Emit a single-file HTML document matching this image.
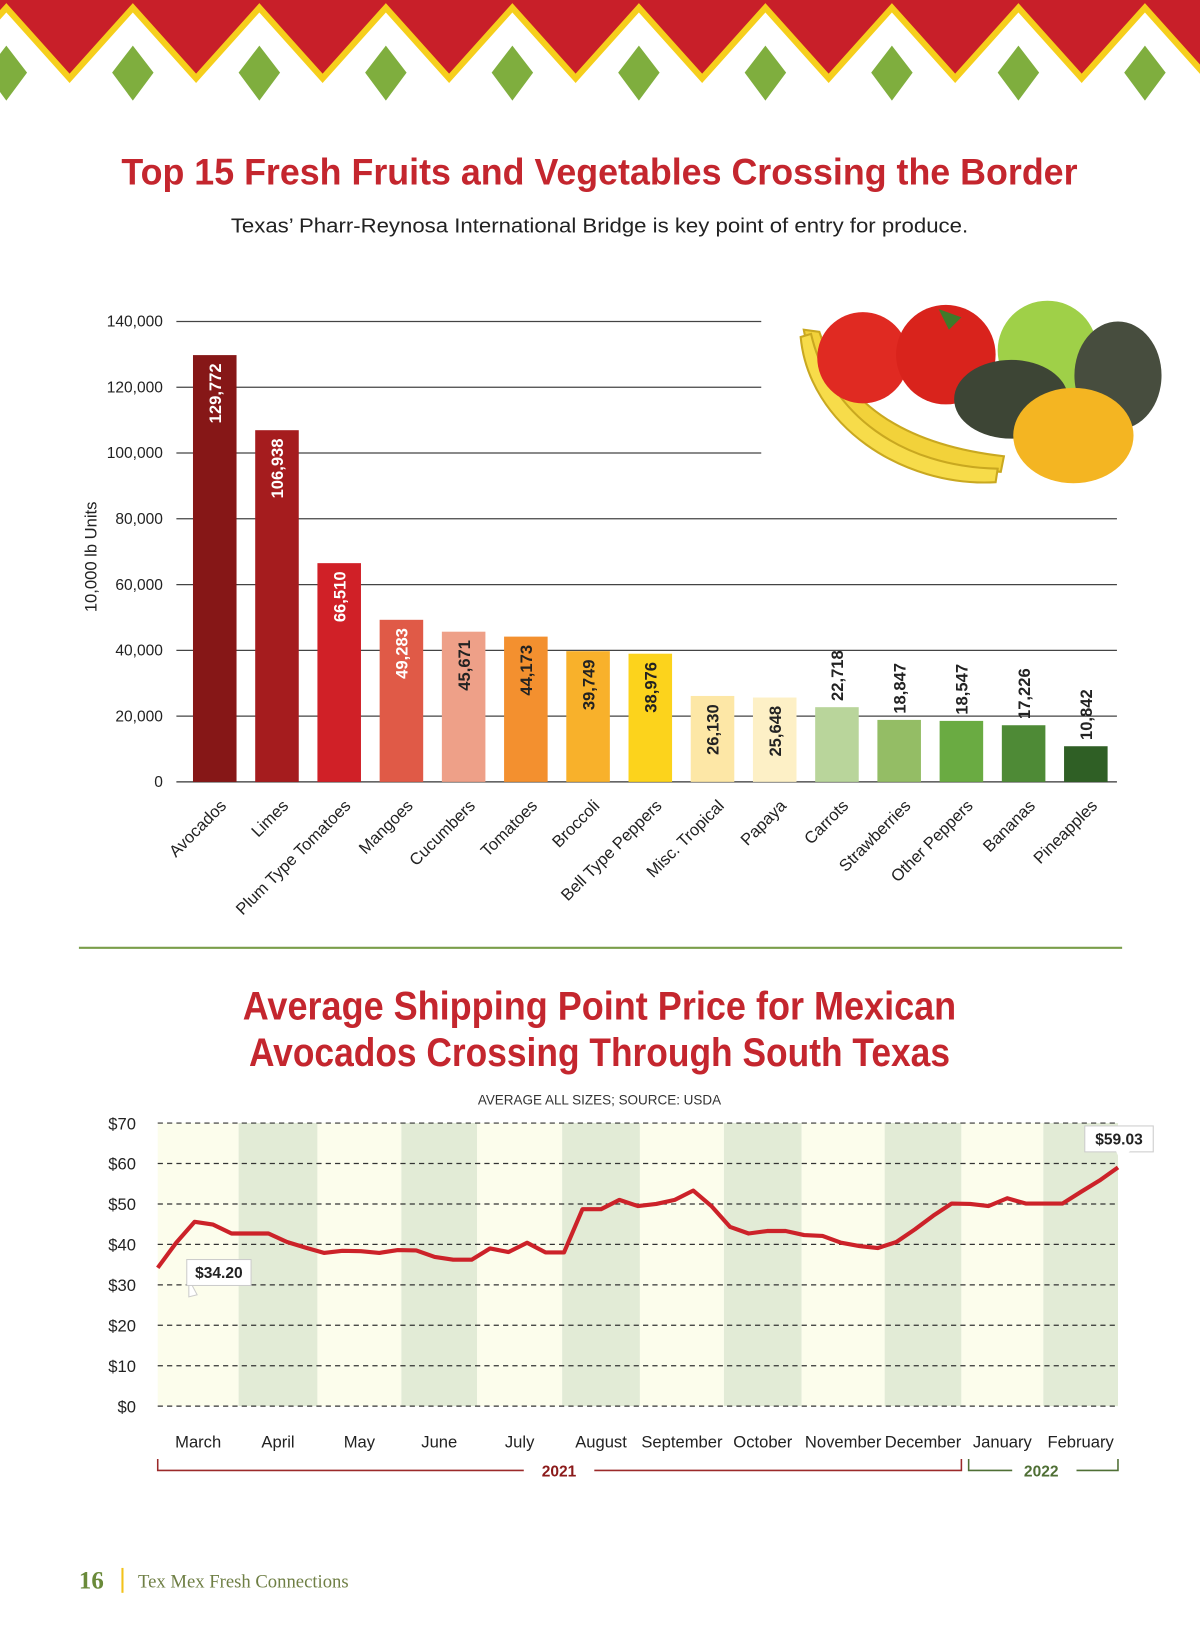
<!DOCTYPE html>
<html><head><meta charset="utf-8"><style>
html,body{margin:0;padding:0;background:#fff;}
svg{display:block;font-family:"Liberation Sans",sans-serif;}
</style></head><body>
<svg id="page" xmlns="http://www.w3.org/2000/svg" width="1200" height="1626" viewBox="0 0 1157 1568">
<rect x="0" y="0" width="1157" height="1568" fill="#fff"/>
<g id="banner"></g>

<text x="578" y="178" text-anchor="middle" font-size="36" font-weight="bold" fill="#c4262e" textLength="922" lengthAdjust="spacingAndGlyphs">Top 15 Fresh Fruits and Vegetables Crossing the Border</text>
<text x="578" y="224" text-anchor="middle" font-size="20" fill="#222" textLength="711" lengthAdjust="spacingAndGlyphs">Texas’ Pharr-Reynosa International Bridge is key point of entry for produce.</text>

<g>
  <path d="M775,318 C790,400 860,450 965,455 L968,440 C880,430 815,395 790,320 Z" fill="#f2d23a" stroke="#c9a820" stroke-width="2"/>
  <path d="M772,325 C780,410 870,470 960,465 L962,452 C870,450 800,400 782,322 Z" fill="#f7dc4a" stroke="#c9a820" stroke-width="2"/>
  <circle cx="832" cy="345" r="44" fill="#e02a22"/>
  <circle cx="912" cy="342" r="48" fill="#d9231c"/>
  <path d="M905,298 l10,20 l12,-12 z" fill="#3f7a2a"/>
  <circle cx="1010" cy="338" r="48" fill="#9fd048"/>
  <ellipse cx="975" cy="385" rx="55" ry="38" fill="#3d4535"/>
  <ellipse cx="1078" cy="362" rx="42" ry="52" fill="#474d3e"/>
  <ellipse cx="1035" cy="420" rx="58" ry="46" fill="#f4b522"/>
</g>

<g id="barchart"></g>

<line x1="76" y1="914" x2="1082" y2="914" stroke="#7a9e4a" stroke-width="2"/>

<text x="578" y="983" text-anchor="middle" font-size="38" font-weight="bold" fill="#c4262e" textLength="688" lengthAdjust="spacingAndGlyphs">Average Shipping Point Price for Mexican</text>
<text x="578" y="1028" text-anchor="middle" font-size="38" font-weight="bold" fill="#c4262e" textLength="676" lengthAdjust="spacingAndGlyphs">Avocados Crossing Through South Texas</text>
<text x="578" y="1065" text-anchor="middle" font-size="13" fill="#333">AVERAGE ALL SIZES; SOURCE: USDA</text>

<g id="linechart"></g>

<g>
  <text x="76" y="1532" font-family="Liberation Serif, serif" font-size="24" font-weight="bold" fill="#6a8a3a">16</text>
  <line x1="118" y1="1512" x2="118" y2="1536" stroke="#f2c21b" stroke-width="2"/>
  <text x="133" y="1531" font-family="Liberation Serif, serif" font-size="18" fill="#6f7f45">Tex Mex Fresh Connections</text>
</g>
</svg>
<script>
var NS = "http://www.w3.org/2000/svg";
// ---- Bar chart data ----
var barCategories = ["Avocados","Limes","Plum Type Tomatoes","Mangoes","Cucumbers","Tomatoes","Broccoli","Bell Type Peppers","Misc. Tropical","Papaya","Carrots","Strawberries","Other Peppers","Bananas","Pineapples"];
var barValues = [129772,106938,66510,49283,45671,44173,39749,38976,26130,25648,22718,18847,18547,17226,10842];
var barLabels = ["129,772","106,938","66,510","49,283","45,671","44,173","39,749","38,976","26,130","25,648","22,718","18,847","18,547","17,226","10,842"];
var barTicks = [0,20000,40000,60000,80000,100000,120000,140000];
var barTickLabels = ["0","20,000","40,000","60,000","80,000","100,000","120,000","140,000"];
// ---- Line chart data ----
var priceValues = [34.2,40.4,45.6,44.9,42.7,42.7,42.7,40.6,39.2,37.9,38.4,38.3,37.9,38.6,38.5,36.9,36.2,36.2,39.0,38.1,40.4,38.0,38.0,48.7,48.7,51.0,49.5,50.0,51.0,53.3,49.4,44.3,42.7,43.3,43.3,42.3,42.1,40.4,39.6,39.1,40.6,43.7,47.1,50.1,50.0,49.5,51.4,50.1,50.1,50.1,53.0,55.8,59.03];
var priceTicks = [0,10,20,30,40,50,60,70];
var priceTickLabels = ["$0","$10","$20","$30","$40","$50","$60","$70"];
var months = ["March","April","May","June","July","August","September","October","November","December","January","February"];

function mk(tag, attrs, parent, txt){
  var e = document.createElementNS(NS, tag);
  for (var k in attrs) e.setAttribute(k, attrs[k]);
  if (txt !== undefined) e.textContent = txt;
  parent.appendChild(e);
  return e;
}

// ---- Banner ----
(function(){
  var g = document.getElementById("banner");
  function edge(dy){
    var p = "-70," + (80+dy) + " ";
    for (var k = -1; k < 11; k++){
      var xc = 6 + 122*k;
      p += xc + "," + (12+dy) + " " + (xc+61) + "," + (80+dy) + " ";
    }
    return p;
  }
  var y = mk("polygon", {points: "-70,-10 1250,-10 " + edge(0).split(" ").reverse().join(" "), fill:"#f6cf1c"}, g);
  
  
  var r = mk("polygon", {points: "-70,-10 1250,-10 " + edge(-9).split(" ").reverse().join(" "), fill:"#c81f29"}, g);
  
  
  for (var k = 0; k < 10; k++){
    var xc = 6 + 122*k;
    var d = mk("polygon", {points: xc+",44 "+(xc+20)+",70 "+xc+",97 "+(xc-20)+",70", fill:"#7fae3e"}, g);
    
    
  }
})();

// ---- Bar chart ----
(function(){
  var g = document.getElementById("barchart");
  var y0 = 754, yTop = 310, vMax = 140000;
  function yScale(v){ return y0 - (v / vMax) * (y0 - yTop); }
  function xBand(i){ return 186 + i * 60; }
  var bw = 42;
  var colors = ["#861717","#a51c1e","#d02027","#e05a47","#eea088","#f3902f","#f8b12b","#fcd31c","#fde7a6","#fdf0c6","#b9d59b","#94bd65","#6aab42","#4e8a36","#2f5f25"];
  var labelColors = ["#fff","#fff","#fff","#fff","#222","#222","#222","#222","#222","#222","#222","#222","#222","#222","#222"];
  for (var t = 0; t < barTicks.length; t++){
    var yy = yScale(barTicks[t]);
    var x2 = barTicks[t] >= 100000 ? 734 : 1077;
    var gl = mk("line", {x1:170, x2:x2, y1:yy, y2:yy, stroke: barTicks[t]===0 ? "#333" : "#444", "stroke-width":1.2}, g);
    
    
    var tl = mk("text", {x:157, y:yy+5, "text-anchor":"end", "font-size":15, fill:"#222"}, g, barTickLabels[t]);
    
    
  }
  var at = mk("text", {x:0, y:0, transform:"translate(93,537) rotate(-90)", "text-anchor":"middle", "font-size":16, fill:"#222"}, g, "10,000 lb Units");
  
  
  for (var i = 0; i < barValues.length; i++){
    var x = xBand(i), top = yScale(barValues[i]), cx = x + bw/2;
    var b = mk("rect", {x:x, y:top, width:bw, height:y0-top, fill:colors[i]}, g);
    
    
    var inside = barValues[i] > 24000;
    var lbl;
    if (inside){
      lbl = mk("text", {x:0, y:0, transform:"translate("+(cx+6)+","+(top+8)+") rotate(-90)", "text-anchor":"end", "font-size":16, "font-weight":"bold", fill:labelColors[i]}, g, barLabels[i]);
    } else {
      lbl = mk("text", {x:0, y:0, transform:"translate("+(cx+6)+","+(top-6)+") rotate(-90)", "text-anchor":"start", "font-size":16, "font-weight":"bold", fill:"#222"}, g, barLabels[i]);
    }
    
    
    var xl = mk("text", {x:0, y:0, transform:"translate("+(cx+12)+",778) rotate(-45)", "text-anchor":"end", "font-size":16, fill:"#222"}, g, barCategories[i]);
    
    
  }
})();

// ---- Line chart ----
(function(){
  var g = document.getElementById("linechart");
  var X0 = 152, X1 = 1078, Y0 = 1356, Y70 = 1083;
  function yScale(v){ return Y0 - (v/70) * (Y0 - Y70); }
  function xScale(i){ return X0 + i * (X1 - X0) / (priceValues.length - 1); }
  var bounds = [152,230,306,387,460,542,617,698,773,853,927,1006,1078];
  for (var m = 0; m < months.length; m++){
    var band = mk("rect", {x:bounds[m], y:Y70, width:bounds[m+1]-bounds[m], height:Y0-Y70, fill: m%2 ? "#e2ebd6" : "#fcfdec"}, g);
    
    
    var ml = mk("text", {x:(bounds[m]+bounds[m+1])/2, y:1396, "text-anchor":"middle", "font-size":16, fill:"#222"}, g, months[m]);
    
    
  }
  for (var t = 0; t < priceTicks.length; t++){
    var yy = yScale(priceTicks[t]);
    var gl = mk("line", {x1:152, x2:1078, y1:yy, y2:yy, stroke:"#333", "stroke-width":1.2, "stroke-dasharray":"5,4"}, g);
    
    
    var tl = mk("text", {x:131, y:yy+6, "text-anchor":"end", "font-size":16, fill:"#222"}, g, priceTickLabels[t]);
    
    
  }
  var pts = [];
  for (var i = 0; i < priceValues.length; i++) pts.push(xScale(i).toFixed(1) + "," + yScale(priceValues[i]).toFixed(1));
  var line = mk("polyline", {points: pts.join(" "), fill:"none", stroke:"#cc2229", "stroke-width":4, "stroke-linejoin":"round"}, g);
  
  

  // callouts
  var fx = xScale(0), fy = yScale(priceValues[0]);
  var c1 = mk("g", {}, g);
  
  
  mk("polygon", {points:(fx+30)+","+(fy+11)+" "+(fx+38)+","+(fy+26)+" "+(fx+30)+","+(fy+28), fill:"#fff", stroke:"#ccc"}, c1);
  mk("rect", {x:fx+28, y:fy-8, width:62, height:25, fill:"#fff", stroke:"#ccc"}, c1);
  mk("text", {x:fx+59, y:fy+10, "text-anchor":"middle", "font-size":15, "font-weight":"bold", fill:"#222"}, c1, "$" + priceValues[0].toFixed(2));
  var lx = xScale(priceValues.length-1), ly = yScale(priceValues[priceValues.length-1]);
  var c2 = mk("g", {}, g);
  
  
  mk("rect", {x:lx-32, y:ly-40, width:66, height:25, fill:"#fff", stroke:"#ccc"}, c2);
  mk("polygon", {points:(lx-2)+","+(ly-16)+" "+(lx+12)+","+(ly-16)+" "+(lx+2)+","+(ly-7), fill:"#fff"}, c2);
  mk("text", {x:lx+1, y:ly-22, "text-anchor":"middle", "font-size":15, "font-weight":"bold", fill:"#222"}, c2, "$" + priceValues[priceValues.length-1].toFixed(2));

  // year brackets
  var b1 = mk("g", {}, g);
  
  
  mk("polyline", {points:"152,1407 152,1418 505,1418", fill:"none", stroke:"#9b2a2a", "stroke-width":1.5}, b1);
  mk("polyline", {points:"573,1418 927,1418 927,1407", fill:"none", stroke:"#9b2a2a", "stroke-width":1.5}, b1);
  mk("text", {x:539, y:1424, "text-anchor":"middle", "font-size":15, "font-weight":"bold", fill:"#8b1a1a"}, b1, "2021");
  var b2 = mk("g", {}, g);
  
  
  mk("polyline", {points:"934,1407 934,1418 976,1418", fill:"none", stroke:"#4f6f35", "stroke-width":1.5}, b2);
  mk("polyline", {points:"1038,1418 1078,1418 1078,1407", fill:"none", stroke:"#4f6f35", "stroke-width":1.5}, b2);
  mk("text", {x:1004, y:1424, "text-anchor":"middle", "font-size":15, "font-weight":"bold", fill:"#4f6f35"}, b2, "2022");
})();
</script>
</body></html>
